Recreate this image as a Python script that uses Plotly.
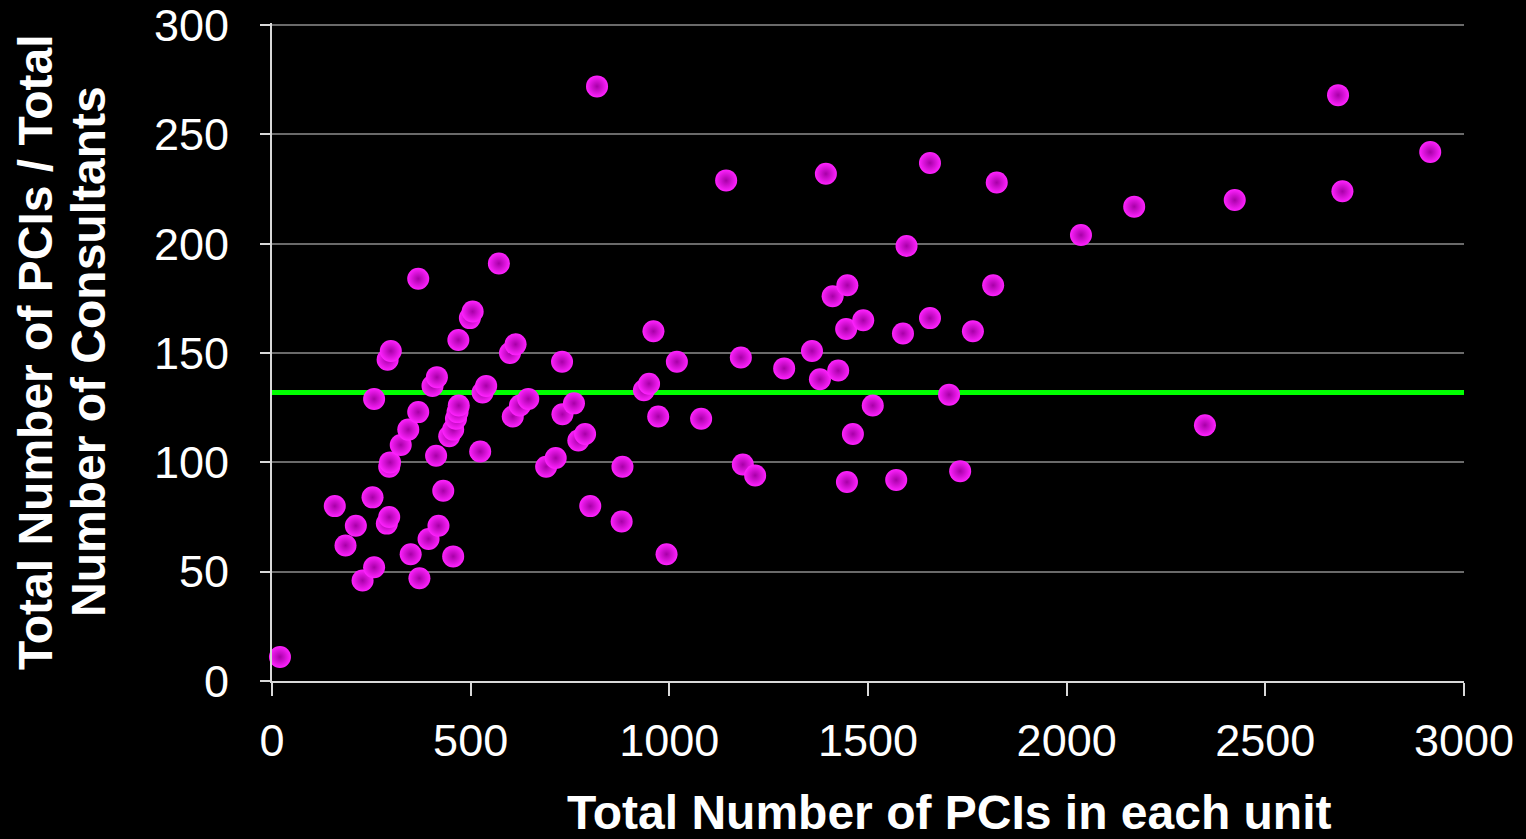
import plotly.graph_objects as go

# Total number of PCIs in each unit
pcis = [20, 158, 185, 211, 228, 253, 257, 257, 289, 295, 291, 299, 295, 297, 324, 343,
        349, 368, 368, 371, 394, 404, 415, 413, 419, 431, 446, 456, 456, 463, 467, 470,
        469, 498, 505, 524, 530, 539, 571, 599, 613, 606, 624, 645, 690, 714, 730, 731,
        760, 771, 788, 801, 818, 880, 882, 936, 949, 960, 972, 993, 1019, 1080, 1143,
        1180, 1185, 1216, 1289, 1359, 1379, 1394, 1411, 1425, 1445, 1447, 1448, 1462,
        1488, 1512, 1571, 1588, 1597, 1656, 1656, 1704, 1732, 1764, 1815, 1824, 2036,
        2170, 2348, 2423, 2683, 2694, 2915]
# PCIs per consultant
ratio = [11, 80, 62, 71, 46, 84, 52, 129, 72, 75, 147, 151, 98, 100, 108, 115,
         58, 184, 123, 47, 65, 135, 139, 103, 71, 87, 112, 115, 57, 120, 123, 126,
         156, 166, 169, 105, 132, 135, 191, 150, 154, 121, 126, 129, 98, 102, 146, 122,
         127, 110, 113, 80, 272, 73, 98, 133, 136, 160, 121, 58, 146, 120, 229,
         148, 99, 94, 143, 151, 138, 232, 176, 142, 161, 91, 181, 113,
         165, 126, 92, 159, 199, 166, 237, 131, 96, 160, 181, 228, 204,
         217, 117, 220, 268, 224, 242]
mean_ratio = 132
x_ticks = [0, 500, 1000, 1500, 2000, 2500, 3000]
y_ticks = [0, 50, 100, 150, 200, 250, 300]

fig = go.Figure()
fig.add_trace(go.Scatter(
    x=[x_ticks[0], x_ticks[-1]], y=[mean_ratio, mean_ratio], mode="lines",
    line=dict(color="#00ff00", width=5), hoverinfo="skip", showlegend=False))
fig.add_trace(go.Scatter(
    x=pcis, y=ratio, mode="markers", cliponaxis=False, showlegend=False,
    marker=dict(size=22, color="#ff22ff", line=dict(width=0),
                gradient=dict(type="radial", color="#a800a8"))))

font = "Liberation Sans, Arial, sans-serif"
fig.update_layout(
    width=1526, height=839,
    paper_bgcolor="black", plot_bgcolor="black",
    margin=dict(l=272, r=62, t=23, b=158),
    font=dict(family=font, color="white", size=45),
    xaxis=dict(range=[0, 3000], tickvals=x_ticks, showgrid=False, zeroline=False,
               showline=True, linecolor="#d9d9d9", linewidth=2,
               ticks="outside", ticklen=13, tickwidth=2, tickcolor="#d9d9d9",
               tickfont=dict(size=45, color="white"), ticklabelstandoff=6,
               ticklabeloverflow="allow", automargin=False),
    yaxis=dict(range=[0, 301], tickvals=y_ticks, showgrid=True, gridcolor="#6a6a6a",
               gridwidth=2, zeroline=False,
               showline=True, linecolor="#d9d9d9", linewidth=2,
               ticks="outside", ticklen=10, tickwidth=2, tickcolor="#d9d9d9",
               tickfont=dict(size=45, color="white"), ticklabelstandoff=22,
               ticklabeloverflow="allow", automargin=False),
    annotations=[
        dict(text="<b>Total Number of PCIs in each unit</b>", xref="paper", yref="paper",
             x=(949 - 272) / 1192, y=0, yshift=-131, xanchor="center", yanchor="middle",
             showarrow=False, font=dict(size=48, color="white", family=font)),
        dict(text="<b>Total Number of PCIs / Total</b>", xref="paper", yref="paper",
             x=0, xshift=-237, y=0.5, textangle=-90, xanchor="center", yanchor="middle",
             showarrow=False, font=dict(size=48, color="white", family=font)),
        dict(text="<b>Number of Consultants</b>", xref="paper", yref="paper",
             x=0, xshift=-184, y=0.5, textangle=-90, xanchor="center", yanchor="middle",
             showarrow=False, font=dict(size=48, color="white", family=font)),
    ],
)
fig.write_html(
    "out.html",
    config={"displayModeBar": False},
    post_script="document.body.style.margin='0';document.body.style.background='black';"
                "document.documentElement.style.background='black';"
                "document.body.style.overflow='hidden';")
